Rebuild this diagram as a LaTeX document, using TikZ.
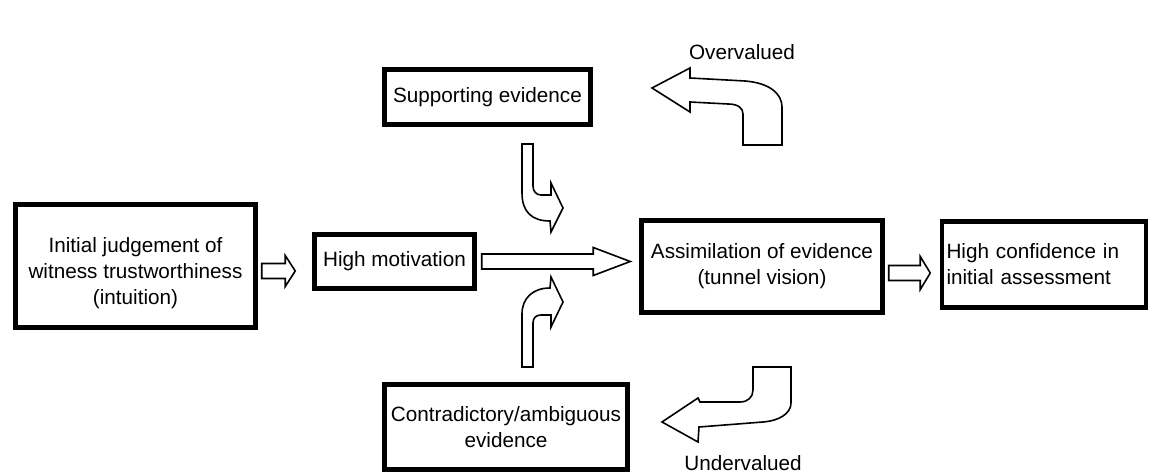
\documentclass[tikz,border=0pt]{standalone}
\usepackage{fontspec}
\setmainfont{Liberation Sans}
\usetikzlibrary{calc}

\newcommand{\hollowarrow}[5]{%
  \draw[arrowline] let \p1 = #1, \p2 = #2 in
    (\x1,\y1+#3pt) -- (\x2-#5pt,\y1+#3pt) -- (\x2-#5pt,\y1+#4pt) -- (\x2,\y1)
    -- (\x2-#5pt,\y1-#4pt) -- (\x2-#5pt,\y1-#3pt) -- (\x1,\y1-#3pt) -- cycle;}

\begin{document}
\begin{tikzpicture}[x = 1pt, y = 1pt,
                    box/.style = {draw, line width=4.5pt, inner sep=3pt, align=center,
                                  font=\fontsize{20.7}{26}\selectfont},
                    tag/.style = {inner sep=0pt, font=\fontsize{20.7}{26}\selectfont},
                    arrowline/.style = {draw, line width=1.6pt, fill=white}]

    \useasboundingbox (0,0) rectangle (1150,474);

    \node[box, minimum width=240pt, minimum height=123pt] (judgement) at (135.5,208)
        {\rule{0pt}{29pt}Initial judgement of\\ witness trustworthiness\\ (intuition)};
    \node[box, minimum width=160pt, minimum height=54pt] (motivation) at (394.5,212.5)
        {High motivation};
    \node[box, minimum width=206pt, minimum height=55pt] (supporting) at (487.5,377)
        {Supporting evidence};
    \node[box, minimum width=243pt, minimum height=85pt] (contradictory) at (506,47)
        {Contradictory/ambiguous\\ evidence};
    \node[box, minimum width=241pt, minimum height=92pt] (assimilation) at (762,207.5)
        {Assimilation of evidence\\ (tunnel vision)};
    \node[box, align=left, text width=195pt, inner xsep=4.5pt, minimum height=86pt] (confidence) at (1044,209.5)
        {High confidence in\\ initial assessment};

    \node[tag] (over) at (742,422) {Overvalued};
    \node[tag] (under) at (743,11) {Undervalued};

    \hollowarrow{($(judgement.east)+(4,-5)$)}{($(motivation.west)+(-17,0)$)}{7.5}{15.5}{10}
    \hollowarrow{($(motivation.east)+(5,0)$)}{($(assimilation.west)+(-9,0)$)}{7.5}{14}{37}
    \hollowarrow{($(assimilation.east)+(4,-6.5)$)}{($(confidence.west)+(-9.5,0)$)}{7.5}{16.5}{10}

    % bent arrows
    \draw[arrowline] (522,330) -- (522,281) .. controls (522,262) and (532,253) .. (550,253)
        -- (551,242) -- (563,266) -- (551,291) -- (551,279) -- (541,279)
        .. controls (536,279) and (533,283) .. (533,288) -- (533,330) -- cycle;
    \draw[arrowline] (522,107) -- (522,160) .. controls (522,176) and (533,186) .. (550,186)
        -- (551,197) -- (563,172) -- (551,147) -- (551,159) -- (541,159)
        .. controls (536,159) and (533,156) .. (533,151) -- (533,107) -- cycle;
    \draw[arrowline] (652,386) -- (690,406) -- (690,396) -- (745,393)
        .. controls (770,391) and (782,380) .. (782,367) -- (782,329) -- (743,329) -- (743,360)
        .. controls (743,366) and (738,370) .. (728,370) -- (690,372) -- (690,362) -- cycle;
    \draw[arrowline] (791,107) -- (791,71) .. controls (791,60) and (778,53) .. (763,52)
        -- (699,47) -- (698,32) -- (662,52) -- (698,76) -- (700,72) -- (740,72)
        .. controls (748,72) and (753,77) .. (753,84) -- (753,107) -- cycle;
\end{tikzpicture}
\end{document}
